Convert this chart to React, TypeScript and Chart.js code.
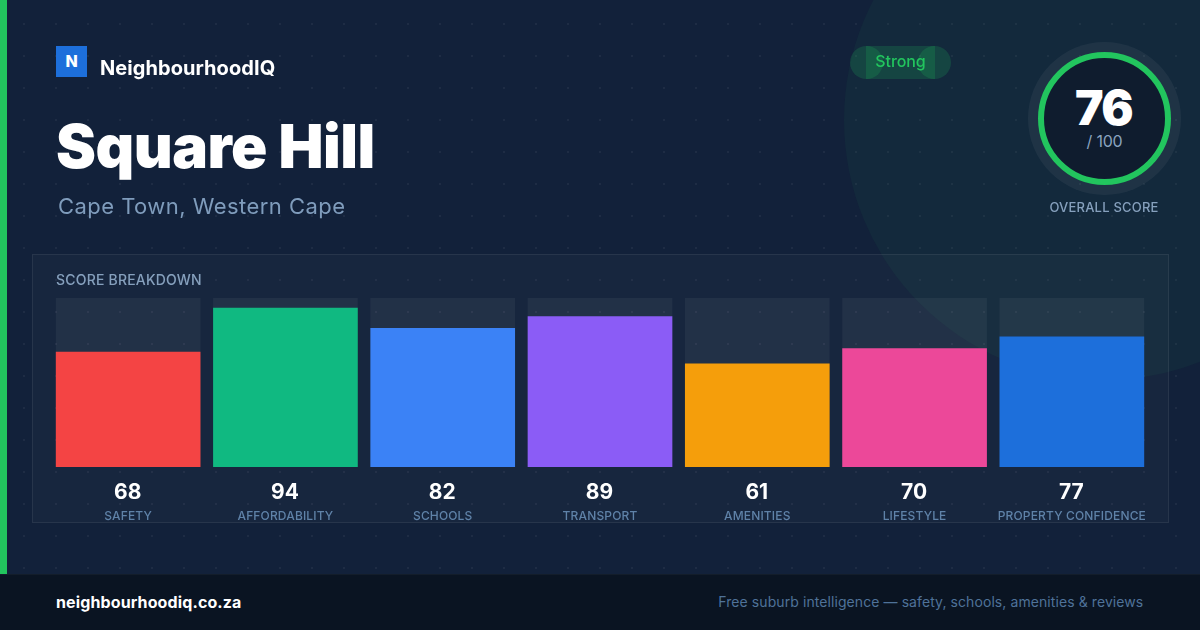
import React, { useEffect, useRef } from "react";
import { Chart, registerables } from "chart.js";

Chart.register(...registerables);

const categories = ["SAFETY", "AFFORDABILITY", "SCHOOLS", "TRANSPORT", "AMENITIES", "LIFESTYLE", "PROPERTY CONFIDENCE"];
const scores = [68, 94, 82, 89, 61, 70, 77];
const trackValues = [100, 100, 100, 100, 100, 100, 100];
const barColors = ["#f44444", "#10b981", "#3b82f6", "#8b5cf6", "#f59e0b", "#ec4899", "#1d6fdb"];

const FONT = "Inter, 'Noto Sans', sans-serif";

const abs = (left: number, top: number, w?: number, h?: number): React.CSSProperties => ({
  position: "absolute", left, top, width: w, height: h,
});

const text = (left: number, top: number, size: number, weight: number, color: string, spacing = 0): React.CSSProperties => ({
  position: "absolute", left, top, fontSize: size, fontWeight: weight, color, letterSpacing: spacing,
  lineHeight: 1, whiteSpace: "nowrap", fontFamily: FONT,
});

const scoreLabels = {
  id: "scoreLabels",
  beforeDraw(chart: any) {
    (chart.ctx as any).letterSpacing = "0.15px";
  },
  afterDraw(chart: any) {
    const ctx = chart.ctx;
    const meta = chart.getDatasetMeta(0);
    ctx.save();
    (ctx as any).letterSpacing = "0px";
    ctx.font = `700 21px ${FONT}`;
    ctx.fillStyle = "#ffffff";
    ctx.textAlign = "center";
    ctx.textBaseline = "middle";
    meta.data.forEach((bar: any, i: number) => {
      ctx.fillText(String(scores[i]), bar.x - 0.5, 493);
    });
    ctx.restore();
  },
};

export default function App() {
  const ref = useRef<HTMLCanvasElement>(null);
  useEffect(() => {
    const chart = new Chart(ref.current!, {
      type: "bar",
      data: {
        labels: categories,
        datasets: [
          { data: scores, backgroundColor: barColors, barThickness: 144, grouped: false, borderWidth: 0 },
          { data: trackValues, backgroundColor: "rgba(255,255,255,0.05)", barThickness: 144, grouped: false, borderWidth: 0 },
        ],
      },
      options: {
        responsive: false,
        animation: false,
        devicePixelRatio: 1,
        layout: { padding: { top: 298, left: 49.5, right: 49.5, bottom: 103 } },
        plugins: { legend: { display: false }, tooltip: { enabled: false } },
        scales: {
          x: {
            grid: { display: false },
            border: { display: false },
            ticks: {
              autoSkip: false, maxRotation: 0, minRotation: 0, padding: 34,
              color: "#5f82a8", font: { family: FONT, size: 12, weight: 500 },
            },
            afterFit: (s: any) => { s.height = 60; },
          },
          y: { display: false, min: 0, max: 100 },
        },
      },
      plugins: [scoreLabels],
    } as any);
    return () => chart.destroy();
  }, []);

  return (
    <div style={{ position: "fixed", left: 0, top: 0, width: 1200, height: 630, overflow: "hidden", background: "#12213a", fontFamily: FONT }}>
      <div style={{ ...abs(0, 0, 1200, 630), backgroundImage: "radial-gradient(circle at 24px 24px, rgba(255,255,255,0.05) 1px, transparent 1.5px)", backgroundSize: "32px 32px" }} />
      <div style={{ ...abs(844, -140, 520, 520), borderRadius: "50%", background: "rgba(34,197,94,0.05)" }} />
      <div style={{ ...abs(0, 0, 7, 574), background: "#22c55e" }} />

      <div style={{ ...abs(32, 254, 1137, 269), boxSizing: "border-box", background: "rgba(255,255,255,0.025)", border: "1px solid rgba(255,255,255,0.07)" }} />
      <canvas ref={ref} width={1200} height={630} style={{ ...abs(0, 0, 1200, 630), display: "block" }} />

      <div style={{ ...abs(56, 46, 31, 31), background: "#1d6fdb", color: "#fff", fontWeight: 800, fontSize: 16, lineHeight: "30px", textAlign: "center" }}>N</div>
      <div style={text(100, 58, 20, 700, "#ffffff", 0.07)}>NeighbourhoodIQ</div>
      <div style={text(56, 116, 60, 900, "#ffffff", -0.5)}>Square Hill</div>
      <div style={text(58, 195, 22, 400, "#7f9cbc", 0.45)}>Cape Town, Western Cape</div>
      <div style={text(56, 273, 14, 500, "#86a0bd", 0.2)}>SCORE BREAKDOWN</div>

      <div style={{ ...abs(866, 46, 69, 33), background: "rgba(34,197,94,0.18)" }} />
      <div style={{ ...abs(850, 46, 33, 33), borderRadius: "50%", background: "rgba(34,197,94,0.18)" }} />
      <div style={{ ...abs(918, 46, 33, 33), borderRadius: "50%", background: "rgba(34,197,94,0.18)" }} />
      <div style={{ ...text(850, 53, 16, 500, "#22c55e", -0.1), width: 101, textAlign: "center" }}>Strong</div>

      <div style={{ ...abs(1028, 42, 153, 153), borderRadius: "50%", background: "rgba(255,255,255,0.05)" }} />
      <div style={{ ...abs(1038, 52, 133, 133), boxSizing: "border-box", borderRadius: "50%", background: "#0f1c2e", border: "6px solid #22c55e" }} />
      <div style={{ ...text(1037, 84, 48, 900, "#ffffff", -1.5), width: 133, textAlign: "center" }}>76</div>
      <div style={{ ...text(1038, 133, 16, 400, "#8aa3bf", -0.2), width: 133, textAlign: "center" }}>/ 100</div>
      <div style={{ ...text(1004, 201, 13, 500, "#86a0bd", 0.2), width: 200, textAlign: "center" }}>OVERALL SCORE</div>

      <div style={{ ...abs(0, 574, 1200, 56), boxSizing: "border-box", background: "#0a1422", borderTop: "1px solid rgba(255,255,255,0.04)" }} />
      <div style={text(56, 594, 16, 700, "#ffffff", 0.12)}>neighbourhoodiq.co.za</div>
      <div style={{ ...text(600, 595, 14, 400, "#4f7299", 0.08), width: 543.3, textAlign: "right" }}>Free suburb intelligence — safety, schools, amenities &amp; reviews</div>
    </div>
  );
}
